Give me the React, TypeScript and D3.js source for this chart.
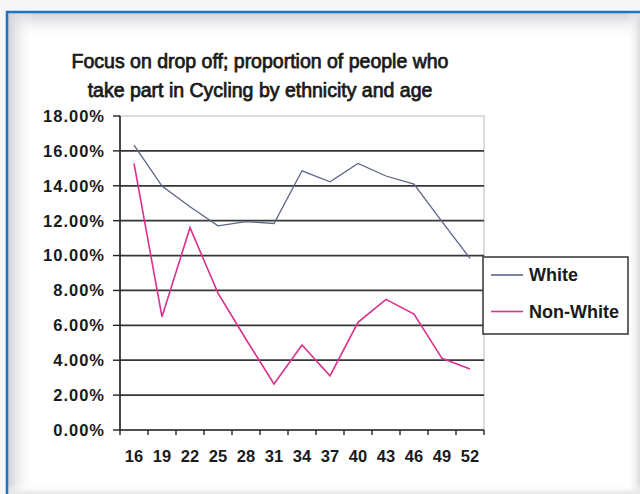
import React from "react";
import * as d3 from "d3";

const ages = ["16", "19", "22", "25", "28", "31", "34", "37", "40", "43", "46", "49", "52"];
const whiteValues = [16.33, 13.98, 12.8, 11.7, 11.94, 11.84, 14.86, 14.23, 15.28, 14.56, 14.1, 11.94, 9.84];
const nonWhiteValues = [15.28, 6.49, 11.6, 7.85, 5.2, 2.64, 4.87, 3.11, 6.17, 7.49, 6.65, 4.11, 3.5];
const yTicks = [0, 2, 4, 6, 8, 10, 12, 14, 16, 18];
const titleLines = ["Focus on drop off; proportion of people who", "take part in Cycling by ethnicity and age"];
const seriesNames = ["White", "Non-White"];
const seriesColors = ["#5d6584", "#d9318c"];

export default function App() {
  const W = 640, H = 494;
  const left = 120, right = 484, top = 116, bottom = 430;
  const x = d3.scaleBand<string>().domain(ages).range([left, right]);
  const y = d3.scaleLinear().domain([0, 18]).range([bottom, top]);
  const line = d3
    .line<number>()
    .x((_, i) => (x(ages[i]) as number) + x.bandwidth() / 2)
    .y((v) => y(v));
  const font = "'Liberation Sans', Arial, sans-serif";
  const xTickPositions = ages.map((a) => x(a) as number).concat([right]);

  return (
    <svg width={W} height={H} style={{ position: "absolute", left: 0, top: 0 }} fontFamily={font}>
      <defs>
        <linearGradient id="gTop" x1="0" y1="0" x2="0" y2="1">
          <stop offset="0" stopColor="#d0d0d6" />
          <stop offset="1" stopColor="#ffffff" stopOpacity="0" />
        </linearGradient>
        <linearGradient id="gLeft" x1="0" y1="0" x2="1" y2="0">
          <stop offset="0" stopColor="#d0d0d6" />
          <stop offset="1" stopColor="#ffffff" stopOpacity="0" />
        </linearGradient>
        <linearGradient id="gRight" x1="0" y1="0" x2="1" y2="0">
          <stop offset="0" stopColor="#ffffff" stopOpacity="0" />
          <stop offset="1" stopColor="#dcdcdf" />
        </linearGradient>
        <linearGradient id="gBottom" x1="0" y1="0" x2="0" y2="1">
          <stop offset="0" stopColor="#ffffff" stopOpacity="0" />
          <stop offset="1" stopColor="#e6e6e9" />
        </linearGradient>
      </defs>
      <rect x={0} y={0} width={W} height={H} fill="#f7f7f8" />
      <rect x={8} y={13} width={W} height={H} fill="#ffffff" />
      <rect x={8} y={13} width={W} height={26} fill="url(#gTop)" />
      <rect x={8} y={13} width={26} height={H} fill="url(#gLeft)" />
      <rect x={626} y={13} width={14} height={H} fill="url(#gRight)" />
      <rect x={8} y={484} width={W} height={10} fill="url(#gBottom)" />
      <path d={`M7,${H} V12 H${W}`} fill="none" stroke="#1f73c2" strokeWidth={2.5} />

      {titleLines.map((t, i) => (
        <text key={i} x={260} y={68 + i * 28.5} textAnchor="middle" fontSize={19.5} fill="#1a1a1a" stroke="#1a1a1a" strokeWidth={0.75}>
          {t}
        </text>
      ))}

      {/* plot border */}
      <rect x={left} y={top} width={right - left} height={bottom - top} fill="none" stroke="#c4c4c4" strokeWidth={1.2} />
      {yTicks.filter((t) => t > 0 && t < 18).map((t) => (
        <line key={t} x1={left} x2={right} y1={y(t)} y2={y(t)} stroke="#363636" strokeWidth={1.7} />
      ))}
      {yTicks.map((t) => (
        <line key={"yt" + t} x1={left - 7} x2={left} y1={y(t)} y2={y(t)} stroke="#222" strokeWidth={1.4} />
      ))}
      <line x1={left} x2={left} y1={top} y2={bottom} stroke="#222" strokeWidth={1.6} />
      <line x1={left} x2={right} y1={bottom} y2={bottom} stroke="#222" strokeWidth={1.6} />
      {xTickPositions.map((p, i) => (
        <line key={"xt" + i} x1={p} x2={p} y1={bottom} y2={bottom + 5} stroke="#222" strokeWidth={1.4} />
      ))}
      {yTicks.map((t) => (
        <text key={"yl" + t} x={105} y={y(t)} dy="0.36em" textAnchor="end" fontSize={16.5} fontWeight="bold" letterSpacing={1} fill="#1a1a1a">
          {t.toFixed(2) + "%"}
        </text>
      ))}
      {ages.map((a) => (
        <text key={"xl" + a} x={(x(a) as number) + x.bandwidth() / 2} y={462} textAnchor="middle" fontSize={16.5} fontWeight="bold" fill="#1a1a1a">
          {a}
        </text>
      ))}

      <path d={line(whiteValues) || ""} fill="none" stroke={seriesColors[0]} strokeWidth={1.3} />
      <path d={line(nonWhiteValues) || ""} fill="none" stroke={seriesColors[1]} strokeWidth={1.6} />

      {/* legend */}
      <rect x={483} y={257} width={145} height={77} fill="#ffffff" stroke="#333" strokeWidth={1.5} />
      {seriesNames.map((n, i) => (
        <g key={n}>
          <line x1={491} x2={523} y1={275 + i * 36.5} y2={275 + i * 36.5} stroke={seriesColors[i]} strokeWidth={1.6} />
          <text x={529} y={275 + i * 36.5} dy="0.36em" fontSize={18} fontWeight="bold" fill="#1a1a1a">
            {n}
          </text>
        </g>
      ))}
    </svg>
  );
}
